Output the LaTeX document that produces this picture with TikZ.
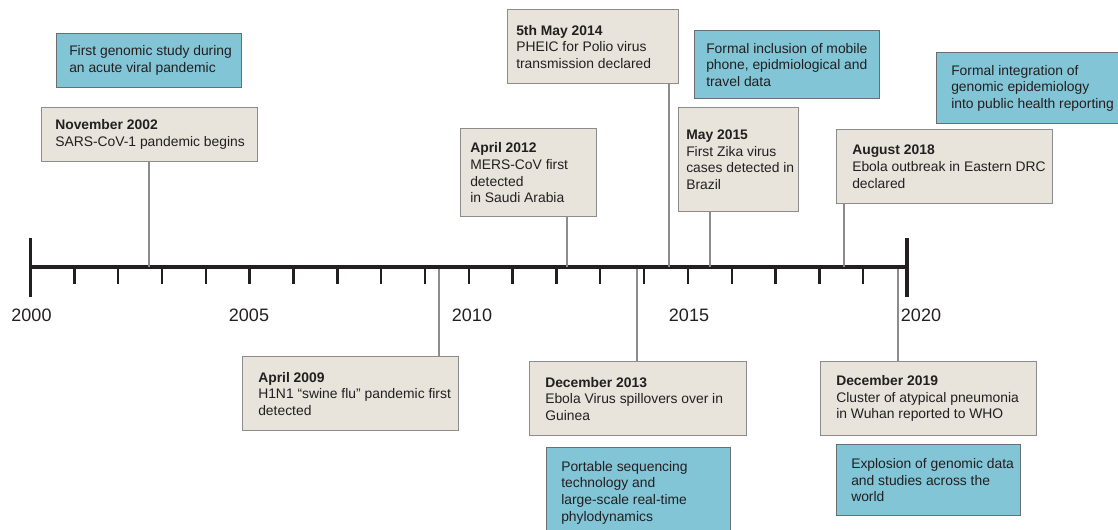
\documentclass[tikz,border=0pt]{standalone}
\usepackage{fontspec}
\setmainfont{Liberation Sans}
\definecolor{beige}{RGB}{232,228,219}
\definecolor{genblue}{RGB}{130,197,214}
\definecolor{ink}{RGB}{35,31,32}
\definecolor{edgegray}{RGB}{140,140,140}
\definecolor{blueedge}{RGB}{105,110,112}
\definecolor{stemgray}{RGB}{140,140,140}
\begin{document}
\begin{tikzpicture}[x=0.75pt,y=0.75pt,yscale=-1,xscale=1,
  event/.style={draw=edgegray, fill=beige, line width=1.1pt, anchor=north west, inner sep=0pt},
  genomic/.style={event, draw=blueedge, fill=genblue},
  txt/.style={anchor=west, align=left, inner sep=0pt, text=ink, font=\fontsize{10.4}{12.5}\selectfont},
  stem/.style={draw=stemgray, line width=0.9pt},
  axis/.style={draw=ink, line width=2.3pt},
  tick/.style={draw=ink, line width=1.8pt},
  year/.style={anchor=base, inner sep=0pt, text=ink, font=\fontsize{13.5}{16}\selectfont}]
\useasboundingbox (0,0) rectangle (1118,529);

% Timeline axis
\coordinate (y2000) at (30.5,267);
\coordinate (y2020) at (907,267);
\draw[axis] (y2000) -- (y2020);
\draw[axis] (30.5,238) -- (30.5,297);
\draw[axis] (907,238) -- (907,297);
\foreach \i in {1,...,19}
  \draw[tick] ({30.5+43.83*\i},267) -- ++(0,17);

% Year labels
\foreach \yr/\xx in {2000/31.5,2005/249,2010/472,2015/689,2020/921}
  \node[year] (lab\yr) at (\xx,321) {\yr};

% Events above the axis
\node[genomic, minimum width=138.75pt, minimum height=40.5pt,
  label={[txt, xshift=9.75pt]west:{First genomic study during\\an acute viral pandemic}}] (gen1) at (56,33) {};
\node[event, minimum width=162pt, minimum height=40.5pt,
  label={[txt, xshift=10.5pt]west:{\textbf{November 2002}\\SARS-CoV-1 pandemic begins}}] (nov02) at (41,107) {};
\node[event, minimum width=128.25pt, minimum height=55.5pt,
  label={[txt, xshift=6.75pt]west:{\textbf{5th May 2014}\\PHEIC for Polio virus\\transmission declared}}] (may14) at (507,9) {};
\node[event, minimum width=102pt, minimum height=66pt,
  label={[txt, xshift=7.5pt]west:{\textbf{April 2012}\\MERS-CoV first\\detected\\in Saudi Arabia}}] (apr12) at (460,128) {};
\node[genomic, minimum width=138.75pt, minimum height=51pt,
  label={[txt, xshift=9pt]west:{Formal inclusion of mobile\\phone, epidmiological and\\travel data}}] (mobile) at (694,30) {};
\node[event, minimum width=90pt, minimum height=78pt,
  label={[txt, xshift=6pt]west:{\textbf{May 2015}\\First Zika virus\\cases detected in\\Brazil}}] (may15) at (678,107) {};
\node[genomic, minimum width=142.5pt, minimum height=53.25pt,
  label={[txt, xshift=11.25pt]west:{Formal integration of\\genomic epidemiology\\into public health reporting}}] (integ) at (936,52) {};
\node[event, minimum width=162pt, minimum height=55.5pt,
  label={[txt, xshift=12pt]west:{\textbf{August 2018}\\Ebola outbreak in Eastern DRC\\declared}}] (aug18) at (836,129) {};

% Events below the axis
\node[event, minimum width=162pt, minimum height=55.5pt,
  label={[txt, xshift=12pt]west:{\textbf{April 2009}\\H1N1 “swine flu” pandemic first\\detected}}] (apr09) at (242,356) {};
\node[event, minimum width=162.75pt, minimum height=55.5pt,
  label={[txt, xshift=12pt]west:{\textbf{December 2013}\\Ebola Virus spillovers over in\\Guinea}}] (dec13) at (529,361) {};
\node[genomic, minimum width=138pt, minimum height=67.5pt,
  label={[txt, xshift=11.25pt]west:{Portable sequencing\\technology and\\large-scale real-time\\phylodynamics}}] (portable) at (546,447) {};
\node[event, minimum width=162pt, minimum height=55.5pt,
  label={[txt, xshift=12pt]west:{\textbf{December 2019}\\Cluster of atypical pneumonia\\in Wuhan reported to WHO}}] (dec19) at (820,361) {};
\node[genomic, minimum width=138pt, minimum height=53.25pt,
  label={[txt, xshift=11.25pt]west:{Explosion of genomic data\\and studies across the\\world}}] (explode) at (836,444) {};

% Stems to the axis
\coordinate (t02) at (149,267);
\coordinate (t12) at (567,267);
\coordinate (t14) at (669,267);
\coordinate (t15) at (710,267);
\coordinate (t18) at (844,267);
\coordinate (b09) at (439,269);
\coordinate (b13) at (637,269);
\coordinate (b19) at (898,269);
\draw[stem] (nov02.south -| t02) -- (t02);
\draw[stem] (apr12.south -| t12) -- (t12);
\draw[stem] (may14.south -| t14) -- (t14);
\draw[stem] (may15.south -| t15) -- (t15);
\draw[stem] (aug18.south -| t18) -- (t18);
\draw[stem] (b09) -- (apr09.north -| b09);
\draw[stem] (b13) -- (dec13.north -| b13);
\draw[stem] (b19) -- (dec19.north -| b19);

\end{tikzpicture}
\end{document}
